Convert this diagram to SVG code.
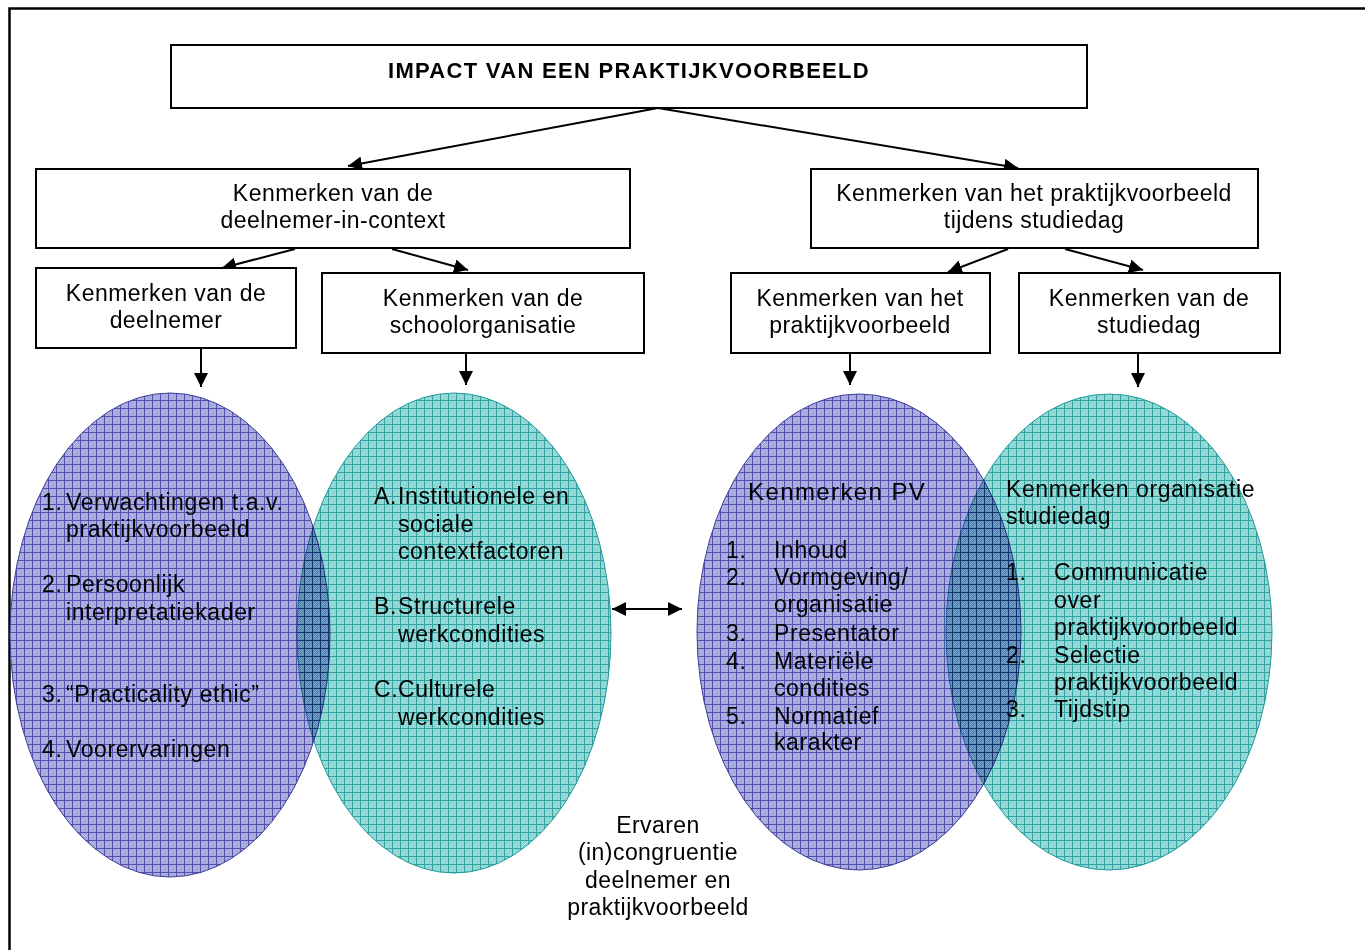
<svg xmlns="http://www.w3.org/2000/svg" width="1365" height="950" viewBox="0 0 1365 950">
<style>
.box{fill:#fff;stroke:#000;stroke-width:2}
.t{font-family:"Liberation Sans",Arial,sans-serif;font-size:23px;letter-spacing:0.45px;fill:#000}
.c{text-anchor:middle}
.e{font-family:"Liberation Sans",Arial,sans-serif;font-size:23px;letter-spacing:0.6px;fill:#000}
.ln{stroke:#000;stroke-width:2;fill:none}
.mult{mix-blend-mode:multiply}
</style>
<defs>
<pattern id="chkP" width="2" height="2" patternUnits="userSpaceOnUse">
<rect width="2" height="2" fill="#a3a3da"/>
<rect width="1" height="1" fill="#b4b4e2"/>
<rect x="1" y="1" width="1" height="1" fill="#b4b4e2"/>
</pattern>
<pattern id="purp" width="8" height="8" patternUnits="userSpaceOnUse">
<rect width="8" height="8" fill="url(#chkP)"/>
<path d="M0 0.5H8M0.5 0V8" stroke="#5151ae" stroke-width="1"/>
</pattern>
<pattern id="chkT" width="2" height="2" patternUnits="userSpaceOnUse">
<rect width="2" height="2" fill="#86d2cf"/>
<rect width="1" height="1" fill="#a0dedb"/>
<rect x="1" y="1" width="1" height="1" fill="#a0dedb"/>
</pattern>
<pattern id="teal" width="8" height="8" patternUnits="userSpaceOnUse">
<rect width="8" height="8" fill="url(#chkT)"/>
<path d="M0 0.5H8M0.5 0V8" stroke="#34a2a2" stroke-width="1"/>
</pattern>
<marker id="ah2" viewBox="0 0 10 10" refX="10" refY="5" markerWidth="14" markerHeight="14" markerUnits="userSpaceOnUse" orient="auto-start-reverse">
<path d="M0 0L10 5L0 10z" fill="#000"/>
</marker>
</defs>
<rect width="1365" height="950" fill="#fff"/>
<path d="M9.5 950V8.5H1365" stroke="#000" stroke-width="2.5" fill="none"/>

<g id="ellipses">
<ellipse id="e-deelnemer" cx="170" cy="635" rx="160" ry="242" fill="url(#purp)" stroke="#3c3c9a" stroke-width="1"/>
<ellipse id="e-school" class="mult" cx="454" cy="633" rx="157" ry="240" fill="url(#teal)" stroke="#1f9a9a" stroke-width="1"/>
<ellipse id="e-pv" cx="859" cy="632" rx="162" ry="238" fill="url(#purp)" stroke="#3c3c9a" stroke-width="1"/>
<ellipse id="e-studiedag" class="mult" cx="1109" cy="632" rx="163" ry="238" fill="url(#teal)" stroke="#1f9a9a" stroke-width="1"/>
</g>

<g id="connectors">
<line class="ln" x1="658" y1="108" x2="348" y2="166" marker-end="url(#ah2)"/>
<line class="ln" x1="658" y1="108" x2="1018" y2="168" marker-end="url(#ah2)"/>
<line class="ln" x1="295" y1="249" x2="222" y2="268" marker-end="url(#ah2)"/>
<line class="ln" x1="392" y1="249" x2="468" y2="270" marker-end="url(#ah2)"/>
<line class="ln" x1="1008" y1="249" x2="948" y2="272" marker-end="url(#ah2)"/>
<line class="ln" x1="1065" y1="249" x2="1143" y2="270" marker-end="url(#ah2)"/>
<line class="ln" x1="201" y1="348" x2="201" y2="387" marker-end="url(#ah2)"/>
<line class="ln" x1="466" y1="345" x2="466" y2="385" marker-end="url(#ah2)"/>
<line class="ln" x1="850" y1="345" x2="850" y2="385" marker-end="url(#ah2)"/>
<line class="ln" x1="1138" y1="353" x2="1138" y2="387" marker-end="url(#ah2)"/>
<line class="ln" x1="612" y1="609" x2="682" y2="609" marker-start="url(#ah2)" marker-end="url(#ah2)"/>
</g>

<g id="title">
<rect class="box" x="171" y="45" width="916" height="63"/>
<text class="t c" x="629" y="78" font-weight="bold" style="font-size:22px;letter-spacing:1.3px">IMPACT VAN EEN PRAKTIJKVOORBEELD</text>
</g>
<g id="n-deelnemer-in-context">
<rect class="box" x="36" y="169" width="594" height="79"/>
<text class="t c" x="333" y="201">Kenmerken van de</text>
<text class="t c" x="333" y="228">deelnemer-in-context</text>
</g>
<g id="n-pv-studiedag">
<rect class="box" x="811" y="169" width="447" height="79"/>
<text class="t c" x="1034" y="201">Kenmerken van het praktijkvoorbeeld</text>
<text class="t c" x="1034" y="228">tijdens studiedag</text>
</g>
<g id="n-deelnemer">
<rect class="box" x="36" y="268" width="260" height="80"/>
<text class="t c" x="166" y="301">Kenmerken van de</text>
<text class="t c" x="166" y="328">deelnemer</text>
</g>
<g id="n-school">
<rect class="box" x="322" y="273" width="322" height="80"/>
<text class="t c" x="483" y="306">Kenmerken van de</text>
<text class="t c" x="483" y="333">schoolorganisatie</text>
</g>
<g id="n-pv">
<rect class="box" x="731" y="273" width="259" height="80"/>
<text class="t c" x="860" y="306">Kenmerken van het</text>
<text class="t c" x="860" y="333">praktijkvoorbeeld</text>
</g>
<g id="n-studiedag">
<rect class="box" x="1019" y="273" width="261" height="80"/>
<text class="t c" x="1149" y="306">Kenmerken van de</text>
<text class="t c" x="1149" y="333">studiedag</text>
</g>

<g id="t-deelnemer">
<text class="e" x="42" y="510">1.</text><text class="e" x="66" y="510">Verwachtingen t.a.v.</text>
<text class="e" x="66" y="537">praktijkvoorbeeld</text>
<text class="e" x="42" y="592">2.</text><text class="e" x="66" y="592">Persoonlijk</text>
<text class="e" x="66" y="620">interpretatiekader</text>
<text class="e" x="42" y="702">3.</text><text class="e" x="66" y="702">“Practicality ethic”</text>
<text class="e" x="42" y="757">4.</text><text class="e" x="66" y="757">Voorervaringen</text>
</g>
<g id="t-school">
<text class="e" x="374" y="504">A.</text><text class="e" x="398" y="504">Institutionele en</text>
<text class="e" x="398" y="532">sociale</text>
<text class="e" x="398" y="559">contextfactoren</text>
<text class="e" x="374" y="614">B.</text><text class="e" x="398" y="614">Structurele</text>
<text class="e" x="398" y="642">werkcondities</text>
<text class="e" x="374" y="697">C.</text><text class="e" x="398" y="697">Culturele</text>
<text class="e" x="398" y="725">werkcondities</text>
</g>
<g id="t-pv">
<text class="e" x="748" y="500" style="font-size:24px;letter-spacing:1.4px">Kenmerken PV</text>
<text class="e" x="726" y="558">1.</text><text class="e" x="774" y="558">Inhoud</text>
<text class="e" x="726" y="585">2.</text><text class="e" x="774" y="585">Vormgeving/</text>
<text class="e" x="774" y="612">organisatie</text>
<text class="e" x="726" y="641">3.</text><text class="e" x="774" y="641">Presentator</text>
<text class="e" x="726" y="669">4.</text><text class="e" x="774" y="669">Materiële</text>
<text class="e" x="774" y="696">condities</text>
<text class="e" x="726" y="724">5.</text><text class="e" x="774" y="724">Normatief</text>
<text class="e" x="774" y="750">karakter</text>
</g>
<g id="t-studiedag">
<text class="e" x="1006" y="497">Kenmerken organisatie</text>
<text class="e" x="1006" y="524">studiedag</text>
<text class="e" x="1006" y="580">1.</text><text class="e" x="1054" y="580">Communicatie</text>
<text class="e" x="1054" y="608">over</text>
<text class="e" x="1054" y="635">praktijkvoorbeeld</text>
<text class="e" x="1006" y="663">2.</text><text class="e" x="1054" y="663">Selectie</text>
<text class="e" x="1054" y="690">praktijkvoorbeeld</text>
<text class="e" x="1006" y="717">3.</text><text class="e" x="1054" y="717">Tijdstip</text>
</g>
<g id="t-congruentie">
<text class="t c" x="658" y="833">Ervaren</text>
<text class="t c" x="658" y="860">(in)congruentie</text>
<text class="t c" x="658" y="888">deelnemer en</text>
<text class="t c" x="658" y="915">praktijkvoorbeeld</text>
</g>
</svg>
